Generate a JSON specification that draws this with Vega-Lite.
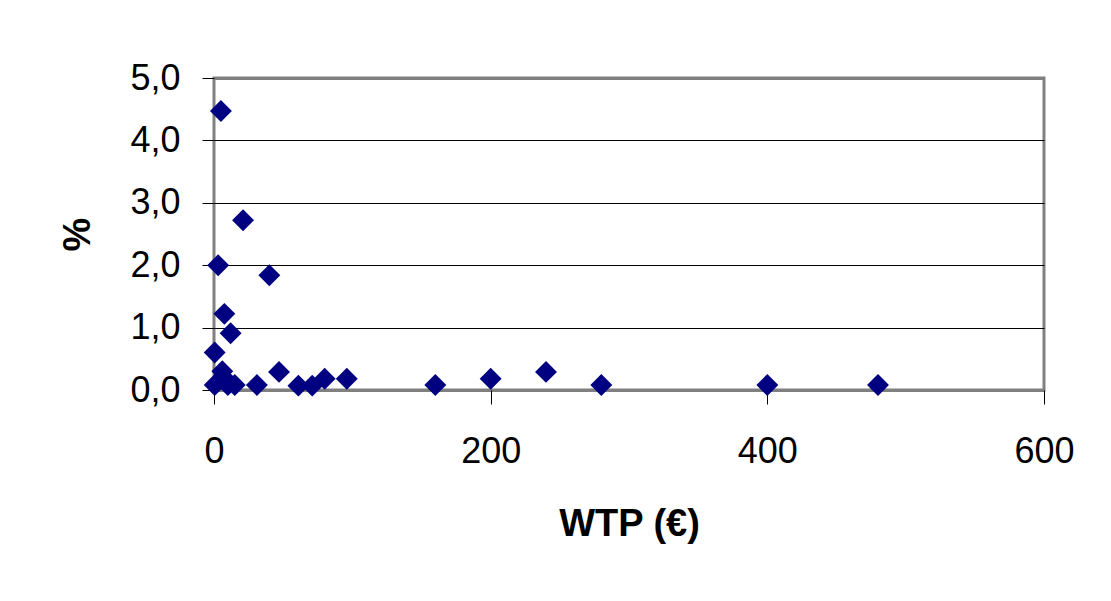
{
  "$schema": "https://vega.github.io/schema/vega-lite/v6.json",
  "autosize": {"type": "none"},
  "padding": {"left": 214, "top": 78, "right": 67, "bottom": 211},
  "width": 830,
  "height": 312,
  "background": "white",
  "config": {
    "font": "Liberation Sans",
    "view": {"stroke": "#808080", "strokeWidth": 3}
  },
  "data": {
    "values": [
      {"wtp": 5, "pct": 4.47},
      {"wtp": 21, "pct": 2.72},
      {"wtp": 3, "pct": 2.0},
      {"wtp": 40, "pct": 1.84},
      {"wtp": 7.5, "pct": 1.22},
      {"wtp": 12, "pct": 0.91},
      {"wtp": 0.5, "pct": 0.6},
      {"wtp": 0.5, "pct": 0.08},
      {"wtp": 6, "pct": 0.3},
      {"wtp": 7, "pct": 0.2},
      {"wtp": 10, "pct": 0.08},
      {"wtp": 15, "pct": 0.08},
      {"wtp": 31, "pct": 0.08},
      {"wtp": 47, "pct": 0.29},
      {"wtp": 61, "pct": 0.07},
      {"wtp": 71, "pct": 0.07},
      {"wtp": 80, "pct": 0.18},
      {"wtp": 96, "pct": 0.18},
      {"wtp": 160, "pct": 0.08},
      {"wtp": 200, "pct": 0.18},
      {"wtp": 240, "pct": 0.29},
      {"wtp": 280, "pct": 0.08},
      {"wtp": 400, "pct": 0.08},
      {"wtp": 480, "pct": 0.08}
    ]
  },
  "mark": {"type": "point", "shape": "diamond", "filled": true, "color": "#000080", "opacity": 1, "size": 480, "clip": false},
  "encoding": {
    "x": {
      "field": "wtp", "type": "quantitative",
      "scale": {"domain": [0, 600], "nice": false, "zero": false},
      "axis": {
        "values": [0, 200, 400, 600],
        "title": "WTP (€)",
        "grid": false,
        "domain": false,
        "tickColor": "#000000",
        "tickSize": 14,
        "labelFontSize": 36,
        "labelColor": "#000000",
        "labelPadding": 30,
        "labelFlush": false,
        "titleFontSize": 38,
        "titleFontWeight": "bold",
        "titleColor": "#000000",
        "titlePadding": 36
      }
    },
    "y": {
      "field": "pct", "type": "quantitative",
      "scale": {"domain": [0, 5], "nice": false, "zero": false},
      "axis": {
        "values": [0, 1, 2, 3, 4, 5],
        "labelExpr": "replace(format(datum.value, '.1f'), '.', ',')",
        "title": "%",
        "grid": true,
        "gridColor": {"condition": {"test": "datum.value == 0 || datum.value == 5", "value": "#808080"}, "value": "#000000"},
        "gridWidth": {"condition": {"test": "datum.value == 0 || datum.value == 5", "value": 3}, "value": 1},
        "gridOpacity": 1,
        "domain": false,
        "tickColor": "#000000",
        "tickSize": 12,
        "labelFontSize": 36,
        "labelColor": "#000000",
        "labelPadding": 22,
        "labelFlush": false,
        "titleFontSize": 38,
        "titleFontWeight": "bold",
        "titleColor": "#000000",
        "titlePadding": 32
      }
    }
  }
}
